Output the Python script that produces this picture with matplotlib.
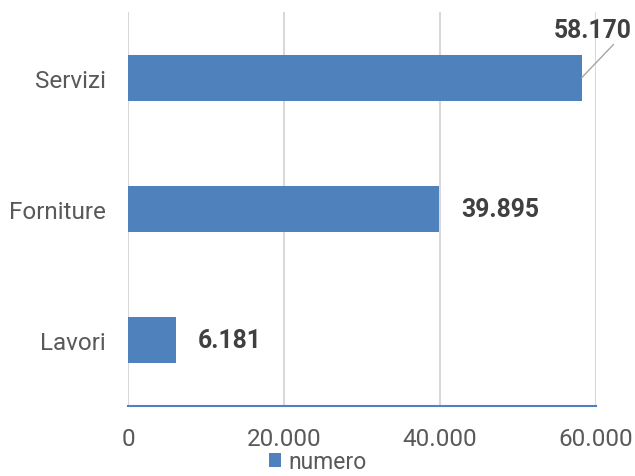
import matplotlib.pyplot as plt

plt.rcParams['font.family'] = ['Roboto', 'DejaVu Sans']

categorie = ['Lavori', 'Forniture', 'Servizi']
numero = [6181, 39895, 58170]
etichette = ['6.181', '39.895', '58.170']
xticks = [0, 20000, 40000, 60000]
xticklabels = ['0', '20.000', '40.000', '60.000']

blu = '#4F81BD'

fig = plt.figure(figsize=(6.35, 4.77), dpi=100)
ax = fig.add_axes([0.2016, 0.1468, 0.7370, 0.8259])

ypos = list(range(len(categorie)))
bars = ax.barh(ypos, numero, height=0.35, color=blu, zorder=3, label='numero')

ax.set_xlim(0, 60000)
ax.set_ylim(-0.5, 2.5)
ax.set_xticks(xticks)
ax.set_xticklabels(xticklabels)
ax.set_yticks(ypos)
ax.set_yticklabels(categorie)
ax.tick_params(axis='both', length=0, labelsize=17.5, labelcolor='#595959')
ax.tick_params(axis='x', pad=15)
ax.tick_params(axis='y', pad=16)

ax.grid(axis='x', color='#D9D9D9', linewidth=1.5, zorder=0)
for s in ['top', 'right', 'left']:
    ax.spines[s].set_visible(False)
ax.spines['bottom'].set_color(blu)
ax.spines['bottom'].set_linewidth(1.5)
ax.spines['bottom'].set_zorder(4)

# etichette dei valori
for i in range(2):
    ax.annotate(etichette[i], xy=(numero[i], ypos[i]), xytext=(22, 0),
                textcoords='offset pixels', va='center', ha='left',
                fontsize=17.8, fontweight='bold', color='#404040')

ax.annotate(etichette[2], xy=(numero[2], ypos[2]), xytext=(50, 48),
            textcoords='offset pixels', va='center', ha='right',
            fontsize=17.8, fontweight='bold', color='#404040',
            annotation_clip=False,
            arrowprops=dict(arrowstyle='-', color='#A6A6A6', lw=1,
                            shrinkA=0, shrinkB=0, relpos=(0.8, 0)))

fig.legend(handles=[bars], labels=['numero'], loc='center',
           bbox_to_anchor=(0.5, 0.03), frameon=False, fontsize=16.5,
           handlelength=0.55, handleheight=0.55, handletextpad=0.3,
           borderpad=0, labelcolor='#595959')

plt.savefig('out.png', dpi=100)
